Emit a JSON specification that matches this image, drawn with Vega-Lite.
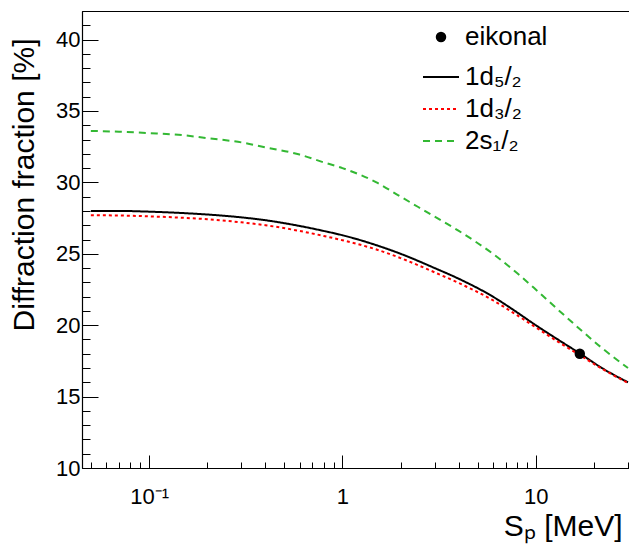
{
  "$schema": "https://vega.github.io/schema/vega-lite/v6.json",
  "autosize": "none",
  "width": 554,
  "height": 457,
  "padding": {"left": 82, "top": 11, "right": 0, "bottom": 80},
  "background": "white",
  "config": {
    "view": {"stroke": "black", "strokeWidth": 1},
    "font": "Liberation Sans",
    "axis": {
      "grid": false,
      "domainColor": "black",
      "domainWidth": 1.2,
      "tickColor": "black",
      "tickWidth": 1,
      "labelFont": "Liberation Sans",
      "labelFontSize": 22,
      "labelColor": "black",
      "labelOverlap": false,
      "labelBound": false,
      "labelFlush": false,
      "titleFont": "Liberation Sans",
      "titleFontSize": 30,
      "titleFontWeight": "normal",
      "titleColor": "black"
    },
    "legend": {
      "labelFont": "Liberation Sans",
      "labelFontSize": 26,
      "labelColor": "black",
      "labelLimit": 0,
      "padding": 0
    }
  },
  "datasets": {
    "curves": [
      {"s": 0.05, "v": 28.0, "orbital": "1d₅/₂"},
      {"s": 0.07, "v": 28.0, "orbital": "1d₅/₂"},
      {"s": 0.1, "v": 27.95, "orbital": "1d₅/₂"},
      {"s": 0.15, "v": 27.85, "orbital": "1d₅/₂"},
      {"s": 0.2, "v": 27.75, "orbital": "1d₅/₂"},
      {"s": 0.3, "v": 27.55, "orbital": "1d₅/₂"},
      {"s": 0.4, "v": 27.35, "orbital": "1d₅/₂"},
      {"s": 0.6, "v": 26.95, "orbital": "1d₅/₂"},
      {"s": 0.8, "v": 26.6, "orbital": "1d₅/₂"},
      {"s": 1, "v": 26.3, "orbital": "1d₅/₂"},
      {"s": 1.5, "v": 25.6, "orbital": "1d₅/₂"},
      {"s": 2, "v": 25.0, "orbital": "1d₅/₂"},
      {"s": 3, "v": 24.0, "orbital": "1d₅/₂"},
      {"s": 4, "v": 23.25, "orbital": "1d₅/₂"},
      {"s": 6, "v": 22.0, "orbital": "1d₅/₂"},
      {"s": 8, "v": 20.9, "orbital": "1d₅/₂"},
      {"s": 10, "v": 20.0, "orbital": "1d₅/₂"},
      {"s": 13, "v": 19.0, "orbital": "1d₅/₂"},
      {"s": 17, "v": 18.0, "orbital": "1d₅/₂"},
      {"s": 22, "v": 17.0, "orbital": "1d₅/₂"},
      {"s": 30, "v": 16.0, "orbital": "1d₅/₂"},
      {"s": 0.05, "v": 27.7, "orbital": "1d₃/₂"},
      {"s": 0.07, "v": 27.68, "orbital": "1d₃/₂"},
      {"s": 0.1, "v": 27.62, "orbital": "1d₃/₂"},
      {"s": 0.15, "v": 27.52, "orbital": "1d₃/₂"},
      {"s": 0.2, "v": 27.42, "orbital": "1d₃/₂"},
      {"s": 0.3, "v": 27.2, "orbital": "1d₃/₂"},
      {"s": 0.4, "v": 27.0, "orbital": "1d₃/₂"},
      {"s": 0.6, "v": 26.6, "orbital": "1d₃/₂"},
      {"s": 0.8, "v": 26.25, "orbital": "1d₃/₂"},
      {"s": 1, "v": 25.95, "orbital": "1d₃/₂"},
      {"s": 1.5, "v": 25.3, "orbital": "1d₃/₂"},
      {"s": 2, "v": 24.7, "orbital": "1d₃/₂"},
      {"s": 3, "v": 23.7, "orbital": "1d₃/₂"},
      {"s": 4, "v": 22.95, "orbital": "1d₃/₂"},
      {"s": 6, "v": 21.75, "orbital": "1d₃/₂"},
      {"s": 8, "v": 20.7, "orbital": "1d₃/₂"},
      {"s": 10, "v": 19.85, "orbital": "1d₃/₂"},
      {"s": 13, "v": 18.85, "orbital": "1d₃/₂"},
      {"s": 17, "v": 17.88, "orbital": "1d₃/₂"},
      {"s": 22, "v": 16.95, "orbital": "1d₃/₂"},
      {"s": 30, "v": 15.95, "orbital": "1d₃/₂"},
      {"s": 0.05, "v": 33.6, "orbital": "2s₁/₂"},
      {"s": 0.07, "v": 33.55, "orbital": "2s₁/₂"},
      {"s": 0.1, "v": 33.45, "orbital": "2s₁/₂"},
      {"s": 0.15, "v": 33.3, "orbital": "2s₁/₂"},
      {"s": 0.2, "v": 33.1, "orbital": "2s₁/₂"},
      {"s": 0.3, "v": 32.8, "orbital": "2s₁/₂"},
      {"s": 0.4, "v": 32.45, "orbital": "2s₁/₂"},
      {"s": 0.6, "v": 31.95, "orbital": "2s₁/₂"},
      {"s": 0.8, "v": 31.4, "orbital": "2s₁/₂"},
      {"s": 1, "v": 31.0, "orbital": "2s₁/₂"},
      {"s": 1.5, "v": 30.0, "orbital": "2s₁/₂"},
      {"s": 2, "v": 29.0, "orbital": "2s₁/₂"},
      {"s": 3, "v": 27.6, "orbital": "2s₁/₂"},
      {"s": 4, "v": 26.6, "orbital": "2s₁/₂"},
      {"s": 6, "v": 25.0, "orbital": "2s₁/₂"},
      {"s": 8, "v": 23.65, "orbital": "2s₁/₂"},
      {"s": 10, "v": 22.5, "orbital": "2s₁/₂"},
      {"s": 13, "v": 21.1, "orbital": "2s₁/₂"},
      {"s": 17, "v": 19.7, "orbital": "2s₁/₂"},
      {"s": 22, "v": 18.4, "orbital": "2s₁/₂"},
      {"s": 30, "v": 17.0, "orbital": "2s₁/₂"}
    ],
    "eik": [
      {"s": 16.9, "v": 18.0, "label": "eikonal"}
    ]
  },
  "resolve": {"axis": {"x": "independent", "y": "independent"}},
  "layer": [
    {
      "data": {"name": "curves"},
      "mark": {"type": "line", "strokeWidth": 2, "clip": true, "interpolate": "monotone"},
      "encoding": {
        "x": {
          "field": "s", "type": "quantitative",
          "scale": {"type": "log", "domain": [0.045, 33], "nice": false},
          "axis": {
            "orient": "bottom",
            "title": "Sₚ [MeV]",
            "values": [0.1, 1, 10],
            "labelExpr": "datum.value == 0.1 ? '10⁻¹' : datum.value == 1 ? '1' : '10'",
            "tickSize": -13,
            "labelPadding": 31,
            "labelBaseline": "top",
            "titleAlign": "right",
            "titleX": 540,
            "titleY": 67,
            "titleBaseline": "alphabetic"
          }
        },
        "y": {
          "field": "v", "type": "quantitative",
          "scale": {"domain": [10, 42], "nice": false, "zero": false},
          "axis": {
            "orient": "left",
            "title": "Diffraction fraction [%]",
            "values": [10, 15, 20, 25, 30, 35, 40],
            "tickSize": -16,
            "labelPadding": 18,
            "titleAngle": -90,
            "titleAlign": "right",
            "titleBaseline": "alphabetic",
            "titleX": -49,
            "titleY": 27
          }
        },
        "color": {
          "field": "orbital", "type": "nominal",
          "scale": {"domain": ["1d₅/₂", "1d₃/₂", "2s₁/₂"], "range": ["#000000", "#ff0000", "#33b833"]},
          "legend": {
            "title": null,
            "orient": "none",
            "legendX": 340,
            "legendY": 47,
            "symbolType": "stroke",
            "symbolSize": 1296,
            "symbolStrokeWidth": 2,
            "labelOffset": 5,
            "rowPadding": 0
          }
        },
        "strokeDash": {
          "field": "orbital", "type": "nominal",
          "scale": {"domain": ["1d₅/₂", "1d₃/₂", "2s₁/₂"], "range": [[1, 0], [3, 3], [7, 5]]},
          "legend": {
            "title": null,
            "orient": "none",
            "legendX": 340,
            "legendY": 47,
            "symbolType": "stroke",
            "symbolSize": 1296,
            "symbolStrokeWidth": 2,
            "labelOffset": 5,
            "rowPadding": 0
          }
        }
      }
    },
    {
      "data": {"name": "eik"},
      "mark": {"type": "point", "filled": true, "color": "black", "size": 110, "opacity": 1},
      "encoding": {
        "x": {
          "field": "s", "type": "quantitative",
          "axis": {
            "orient": "bottom",
            "title": null,
            "domain": false,
            "labels": false,
            "values": [0.05,0.06,0.07,0.08,0.09,0.2,0.3,0.4,0.5,0.6,0.7,0.8,0.9,2,3,4,5,6,7,8,9,20,30],
            "tickSize": -6
          }
        },
        "y": {
          "field": "v", "type": "quantitative",
          "axis": {
            "orient": "left",
            "title": null,
            "domain": false,
            "labels": false,
            "values": [11,12,13,14,16,17,18,19,21,22,23,24,26,27,28,29,31,32,33,34,36,37,38,39,41,42],
            "tickSize": -8
          }
        },
        "shape": {
          "field": "label", "type": "nominal",
          "scale": {"range": ["circle"]},
          "legend": {
            "title": null,
            "orient": "none",
            "legendX": 346,
            "legendY": 13,
            "symbolSize": 110,
            "symbolFillColor": "black",
            "symbolStrokeColor": "black",
            "symbolOpacity": 1,
            "labelOffset": 11
          }
        }
      }
    }
  ]
}
